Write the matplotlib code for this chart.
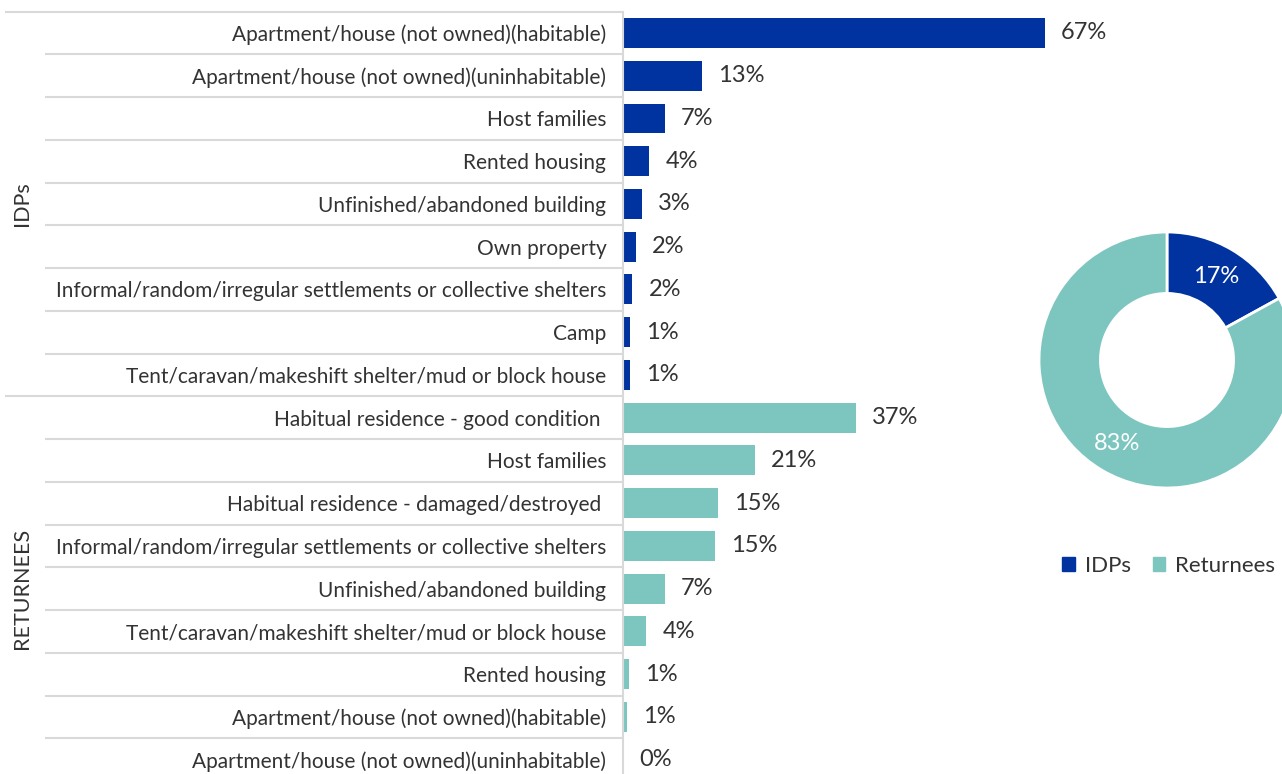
import matplotlib.pyplot as plt
from matplotlib.patches import Patch

plt.rcParams['font.family'] = ['Lato', 'DejaVu Sans']

idp_labels = ["Apartment/house (not owned)(habitable)",
              "Apartment/house (not owned)(uninhabitable)",
              "Host families",
              "Rented housing",
              "Unfinished/abandoned building",
              "Own property",
              "Informal/random/irregular settlements or collective shelters",
              "Camp",
              "Tent/caravan/makeshift shelter/mud or block house"]
idp_values = [67, 12.6, 6.6, 4.2, 3.0, 2.0, 1.5, 1.1, 1.1]
idp_text = ["67%", "13%", "7%", "4%", "3%", "2%", "2%", "1%", "1%"]

ret_labels = ["Habitual residence - good condition ",
              "Host families",
              "Habitual residence - damaged/destroyed ",
              "Informal/random/irregular settlements or collective shelters",
              "Unfinished/abandoned building",
              "Tent/caravan/makeshift shelter/mud or block house",
              "Rented housing",
              "Apartment/house (not owned)(habitable)",
              "Apartment/house (not owned)(uninhabitable)"]
ret_values = [37, 20.9, 15.1, 14.6, 6.6, 3.7, 1.0, 0.6, 0]
ret_text = ["37%", "21%", "15%", "15%", "7%", "4%", "1%", "1%", "0%"]

groups = ["IDPs", "Returnees"]
group_share = [17, 83]

blue = "#0033a0"
teal = "#7dc6c0"
txt = "#333333"
grid = "#d9d9d9"

W, H = 1282, 774
fig = plt.figure(figsize=(W / 100, H / 100), dpi=100)

# bar axes in pixel terms
left_px, top_px, bot_px = 623, 11.6, 781
ax = fig.add_axes([left_px / W, (H - bot_px) / H, (W - left_px) / W, (bot_px - top_px) / H])

labels = idp_labels + ret_labels
values = idp_values + ret_values
texts = idp_text + ret_text
colors = [blue] * len(idp_values) + [teal] * len(ret_values)
n = len(values)
ypos = list(range(n))

ax.barh(ypos, values, height=0.7, color=colors)
ax.set_ylim(n - 0.5, -0.5)
ax.set_xlim(0, (W - left_px) / 6.3)
ax.set_yticks(ypos)
ax.set_yticklabels(labels, fontsize=15, color=txt)
ax.tick_params(axis='y', length=0, pad=12)
ax.set_xticks([])
for s in ['top', 'right', 'bottom']:
    ax.spines[s].set_visible(False)
ax.spines['left'].set_color(grid)
ax.spines['left'].set_linewidth(1.5)

for y, v, t in zip(ypos, values, texts):
    ax.annotate(t, (v, y), xytext=(11.5, 0), textcoords='offset points',
                va='center', ha='left', fontsize=17, color=txt)

# row separators
ax_w = W - left_px
short_x = (45 - left_px) / ax_w
long_x = (5 - left_px) / ax_w
for k in range(n):
    b = k - 0.5
    xmin = long_x if k in (0, len(idp_values)) else short_x
    ax.hlines(b, xmin, -0.002, transform=ax.get_yaxis_transform(),
              color=grid, lw=1.5, clip_on=False)

# group labels
gx = (22 - left_px) / ax_w
ax.text(gx, (len(idp_values) - 1) / 2, "IDPs", transform=ax.get_yaxis_transform(),
        rotation=90, ha='center', va='center', fontsize=15.5, color=txt)
ax.text(gx, len(idp_values) + (len(ret_values) - 1) / 2, "RETURNEES",
        transform=ax.get_yaxis_transform(), rotation=90, ha='center', va='center',
        fontsize=15.5, color=txt)

# donut
r = 128
cx, cy = 1167, 360
ax2 = fig.add_axes([(cx - r) / W, (H - cy - r) / H, 2 * r / W, 2 * r / H])
wedges, _, autotexts = ax2.pie(group_share, colors=[blue, teal], startangle=90, counterclock=False,
                               radius=1, autopct='%d%%', pctdistance=0.76,
                               wedgeprops=dict(width=0.48, edgecolor='white', linewidth=2),
                               textprops=dict(color='white', fontsize=17))
ax2.set_xlim(-1, 1)
ax2.set_ylim(-1, 1)
ax2.set_aspect('equal')
ax2.axis('off')

handles = [Patch(color=blue, label=groups[0]), Patch(color=teal, label=groups[1])]
leg = fig.legend(handles=handles, loc='center left', bbox_to_anchor=(1058 / W, (H - 566) / H),
                 ncol=2, frameon=False, handlelength=0.55, handleheight=0.55, handletextpad=0.45,
                 columnspacing=1.0, fontsize=16, borderaxespad=0, borderpad=0.2)
for t in leg.get_texts():
    t.set_color(txt)

fig.savefig("out.png", dpi=100)
